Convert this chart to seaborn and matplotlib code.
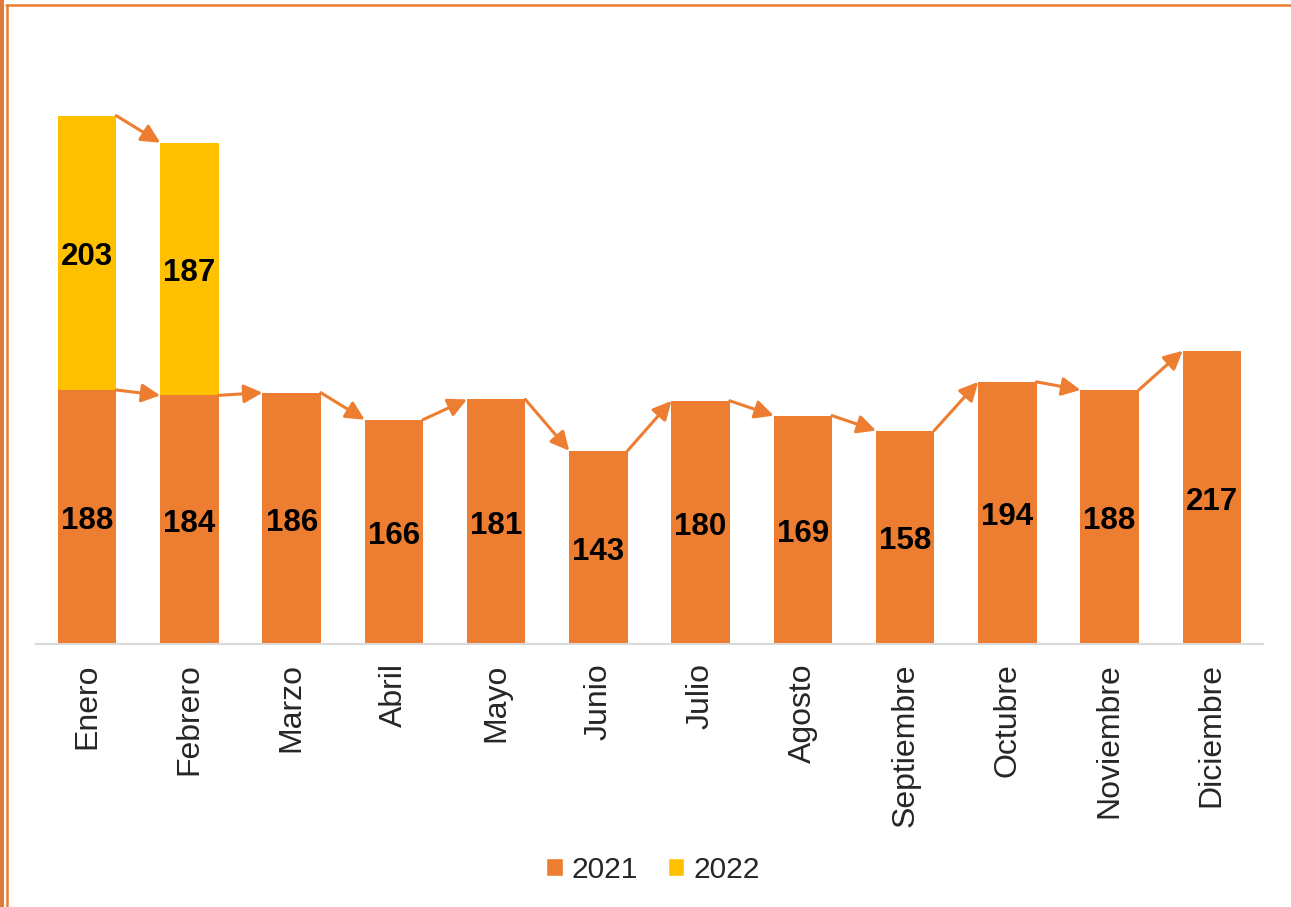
import seaborn as sns
import matplotlib.pyplot as plt
import pandas as pd
from matplotlib.patches import Rectangle, Patch
from matplotlib.lines import Line2D

# datos
meses = ["Enero", "Febrero", "Marzo", "Abril", "Mayo", "Junio", "Julio",
         "Agosto", "Septiembre", "Octubre", "Noviembre", "Diciembre"]
v2021 = [188, 184, 186, 166, 181, 143, 180, 169, 158, 194, 188, 217]
meses_2022 = ["Enero", "Febrero"]
v2022 = [203, 187]

naranja = "#ED7D31"
amarillo = "#FFC000"

sns.set_style("white")
plt.rcParams["font.family"] = ["Liberation Sans", "DejaVu Sans"]

df21 = pd.DataFrame({"mes": meses, "valor": v2021})
df22 = pd.DataFrame({"mes": meses_2022, "valor": v2022})

fig = plt.figure(figsize=(12.91, 9.07), dpi=100)
ax = fig.add_axes([36 / 1291, 263 / 907, 1227 / 1291, 604 / 907])

w = 0.57
sns.barplot(data=df21, x="mes", y="valor", order=meses, color=naranja,
            width=w, saturation=1, ax=ax, linewidth=0)
sns.barplot(data=df22, x="mes", y="valor", order=meses, color=amarillo,
            width=w, saturation=1, ax=ax, linewidth=0,
            bottom=v2021[:2])

# etiquetas de valores, un poco mas abajo del centro como en excel
for c in ax.containers:
    etiquetas = ax.bar_label(c, label_type="center", fontsize=22.5,
                             fontweight="bold", color="black")
    for t in etiquetas:
        t.xyann = (0, -3)

# flechas entre barras
for i in range(len(v2021) - 1):
    ax.annotate("", xy=(i + 1 - w / 2, v2021[i + 1]), xytext=(i + w / 2, v2021[i]),
                arrowprops=dict(arrowstyle="-|>", color=naranja, lw=2.2,
                                mutation_scale=28, shrinkA=0, shrinkB=0))
tot = [a + b for a, b in zip(v2021[:2], v2022)]
ax.annotate("", xy=(1 - w / 2, tot[1]), xytext=(w / 2, tot[0]),
            arrowprops=dict(arrowstyle="-|>", color=naranja, lw=2.2,
                            mutation_scale=28, shrinkA=0, shrinkB=0))

ax.set_xlim(-0.5, 11.5)
ax.set_ylim(0, 447)
ax.set_xlabel("")
ax.set_ylabel("")
ax.set_yticks([])
ax.tick_params(axis="x", length=0, pad=14, labelsize=23, rotation=90)
for s in ["top", "right", "left"]:
    ax.spines[s].set_visible(False)
ax.spines["bottom"].set_color("#D9D9D9")
ax.spines["bottom"].set_linewidth(1.5)

handles = [Patch(facecolor=naranja, label="2021"), Patch(facecolor=amarillo, label="2022")]
fig.legend(handles=handles, loc="center", bbox_to_anchor=(653 / 1291, 37 / 907),
           ncol=2, frameon=False, fontsize=21.5, handlelength=0.55, handleheight=0.55,
           handletextpad=0.3, columnspacing=1.0)

# marco
fig.patches.append(Rectangle((0, 0), 4 / 1291, 1, transform=fig.transFigure,
                             facecolor="#E07B3C", edgecolor="none"))
fig.lines.append(Line2D([6.5 / 1291, 6.5 / 1291], [0, 1 - 5 / 907],
                        transform=fig.transFigure, color=naranja, lw=1.8))
fig.lines.append(Line2D([6 / 1291, 1], [1 - 5 / 907, 1 - 5 / 907],
                        transform=fig.transFigure, color=naranja, lw=1.8))

fig.savefig("out.png", dpi=100)
